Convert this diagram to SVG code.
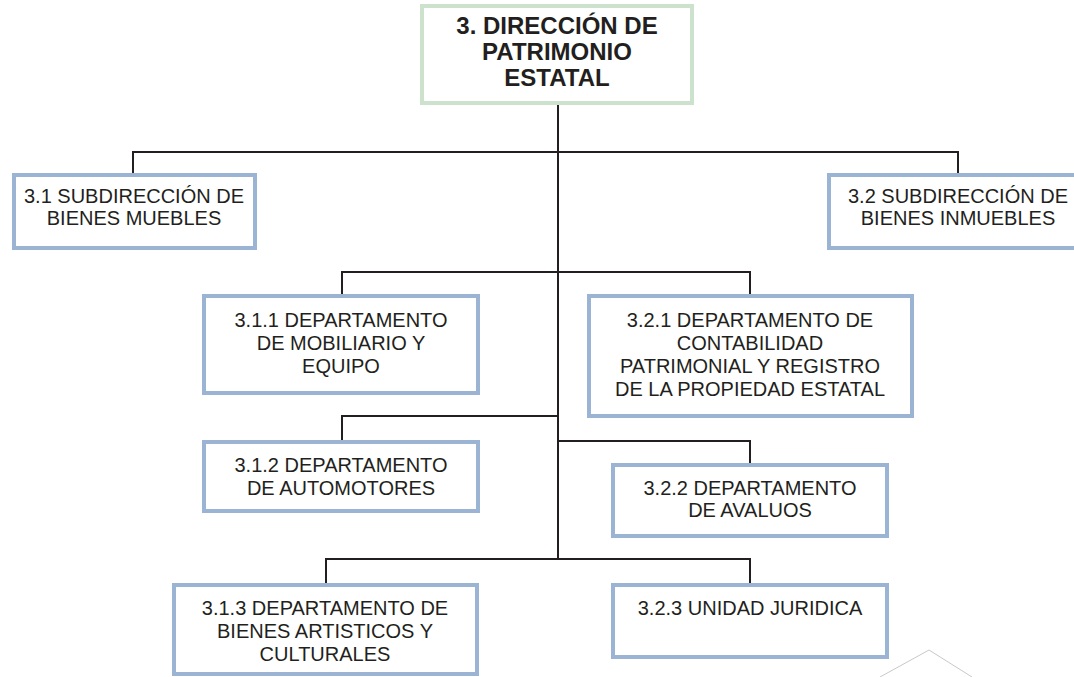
<svg xmlns="http://www.w3.org/2000/svg" width="1074" height="677" viewBox="0 0 1074 677">
<style>
.box{fill:#fff;stroke:#9cb4d3;stroke-width:4}
.top{fill:#fff;stroke:#cde2cd;stroke-width:4}
.t{font-family:"Liberation Sans",Arial,sans-serif;font-size:20px;fill:#231f20;text-anchor:middle}
.tb{font-family:"Liberation Sans",Arial,sans-serif;font-size:24px;font-weight:bold;fill:#231f20;text-anchor:middle}
.c{fill:none;stroke:#231f20;stroke-width:2}
</style>
<rect width="1074" height="677" fill="#fff"/>
<g id="connectors" class="c">
<path d="M558 103V559"/>
<path d="M133 173V152H958V173"/>
<path d="M342 294V272H750V294"/>
<path d="M342 440V416H558"/>
<path d="M558 441H750V463"/>
<path d="M326 583V559H750V583"/>
</g>
<g id="n3">
<rect class="top" x="422" y="6" width="270" height="97"/>
<text class="tb" x="557" y="34">3. DIRECCIÓN DE</text>
<text class="tb" x="557" y="60">PATRIMONIO</text>
<text class="tb" x="557" y="86">ESTATAL</text>
</g>
<g id="n31">
<rect class="box" x="14" y="175" width="241" height="73"/>
<text class="t" x="134" y="203">3.1 SUBDIRECCIÓN DE</text>
<text class="t" x="134" y="225">BIENES MUEBLES</text>
</g>
<g id="n32">
<rect class="box" x="829" y="175" width="260" height="73"/>
<text class="t" x="958" y="203">3.2 SUBDIRECCIÓN DE</text>
<text class="t" x="958" y="225">BIENES INMUEBLES</text>
</g>
<g id="n311">
<rect class="box" x="204" y="296" width="274" height="97"/>
<text class="t" x="341" y="327">3.1.1 DEPARTAMENTO</text>
<text class="t" x="341" y="350">DE MOBILIARIO Y</text>
<text class="t" x="341" y="373">EQUIPO</text>
</g>
<g id="n321">
<rect class="box" x="589" y="296" width="323" height="120"/>
<text class="t" x="750" y="327">3.2.1 DEPARTAMENTO DE</text>
<text class="t" x="750" y="350">CONTABILIDAD</text>
<text class="t" x="750" y="373">PATRIMONIAL Y REGISTRO</text>
<text class="t" x="750" y="396">DE LA PROPIEDAD ESTATAL</text>
</g>
<g id="n312">
<rect class="box" x="204" y="442" width="274" height="69"/>
<text class="t" x="341" y="472">3.1.2 DEPARTAMENTO</text>
<text class="t" x="341" y="495">DE AUTOMOTORES</text>
</g>
<g id="n322">
<rect class="box" x="613" y="465" width="274" height="71"/>
<text class="t" x="750" y="495">3.2.2 DEPARTAMENTO</text>
<text class="t" x="750" y="517">DE AVALUOS</text>
</g>
<g id="n313">
<rect class="box" x="174" y="585" width="303" height="89"/>
<text class="t" x="325" y="615">3.1.3 DEPARTAMENTO DE</text>
<text class="t" x="325" y="638">BIENES ARTISTICOS Y</text>
<text class="t" x="325" y="661">CULTURALES</text>
</g>
<g id="n323">
<rect class="box" x="613" y="585" width="274" height="72"/>
<text class="t" x="750" y="615">3.2.3 UNIDAD JURIDICA</text>
</g>
<polyline points="880,677 929,650 972,677" fill="none" stroke="#c8c8c8" stroke-width="1"/>
</svg>
